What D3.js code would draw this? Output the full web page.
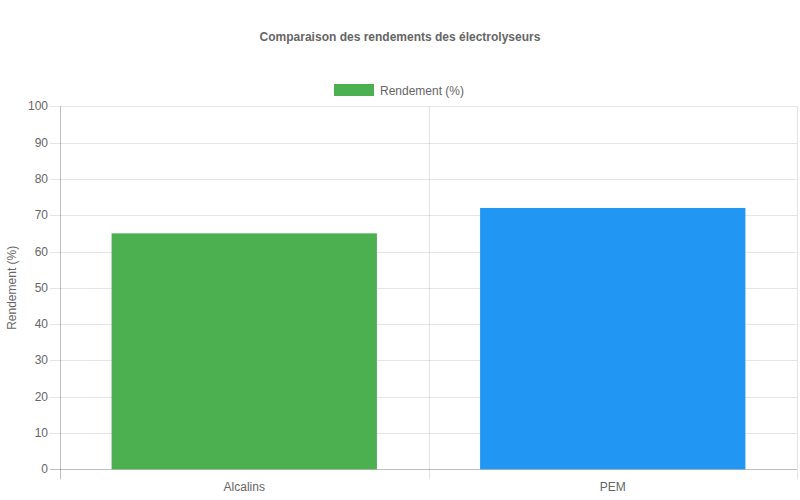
<!DOCTYPE html>
<html><head><meta charset="utf-8">
<script src="https://cdn.jsdelivr.net/npm/d3@7"></script>
<style>body{margin:0;background:#fff}svg{display:block;font-family:"Liberation Sans",Arial,Helvetica,sans-serif}</style>
</head><body>
<svg id="c" width="800" height="500"></svg>
<script>
const title = "Comparaison des rendements des électrolyseurs";
const seriesName = "Rendement (%)";
const categories = ["Alcalins", "PEM"];
const values = [65, 72];
const colors = ["#4CAF50", "#2196F3"];
const yTicks = [0,10,20,30,40,50,60,70,80,90,100];

const svg = d3.select("#c");
const L = 60, R = 797, T = 106.3, B = 469.3;
const x = d3.scaleBand().domain(categories).range([L, R]).paddingInner(0).paddingOuter(0);
const y = d3.scaleLinear().domain([0, 100]).range([B, T]);

// title
svg.append("text").attr("x", 400).attr("y", 41).attr("text-anchor", "middle")
  .attr("font-size", 12).attr("font-weight", "bold").attr("fill", "#666").text(title);

// legend
svg.append("rect").attr("x", 334).attr("y", 84).attr("width", 40).attr("height", 12)
  .attr("fill", colors[0]);
svg.append("text").attr("x", 380).attr("y", 94.5).attr("font-size", 12).attr("fill", "#666").text(seriesName);

// horizontal grid
const g = svg.append("g");
g.selectAll("line.h").data(yTicks).join("line")
  .attr("x1", L - 10).attr("x2", R).attr("y1", d => Math.round(y(d)) + 0.5).attr("y2", d => Math.round(y(d)) + 0.5)
  .attr("stroke", d => d === 0 ? "rgba(0,0,0,0.25)" : "rgba(0,0,0,0.1)").attr("stroke-width", 1);
// vertical grid at category boundaries
const vx = [L, L + x.bandwidth(), R];
g.selectAll("line.v").data(vx).join("line")
  .attr("x1", d => Math.round(d) + 0.5).attr("x2", d => Math.round(d) + 0.5)
  .attr("y1", T).attr("y2", B + 10)
  .attr("stroke", (d, i) => i === 0 ? "rgba(0,0,0,0.25)" : "rgba(0,0,0,0.1)");

// y tick labels
svg.selectAll("text.yt").data(yTicks).join("text")
  .attr("x", 48).attr("y", d => y(d) + 4).attr("text-anchor", "end")
  .attr("font-size", 12).attr("fill", "#666").text(d => d);

// y axis title
svg.append("text").attr("transform", `translate(16,${(T + B) / 2}) rotate(-90)`)
  .attr("text-anchor", "middle").attr("font-size", 12).attr("fill", "#666").text(seriesName);

// bars
const bw = x.bandwidth() * 0.72;
svg.selectAll("rect.bar").data(categories).join("rect")
  .attr("x", d => x(d) + (x.bandwidth() - bw) / 2)
  .attr("width", bw)
  .attr("y", (d, i) => y(values[i]))
  .attr("height", (d, i) => B - y(values[i]))
  .attr("fill", (d, i) => colors[i]);

// x labels
svg.selectAll("text.xt").data(categories).join("text")
  .attr("x", d => x(d) + x.bandwidth() / 2).attr("y", 491).attr("text-anchor", "middle")
  .attr("font-size", 12).attr("fill", "#666").text(d => d);
</script>
</body></html>
